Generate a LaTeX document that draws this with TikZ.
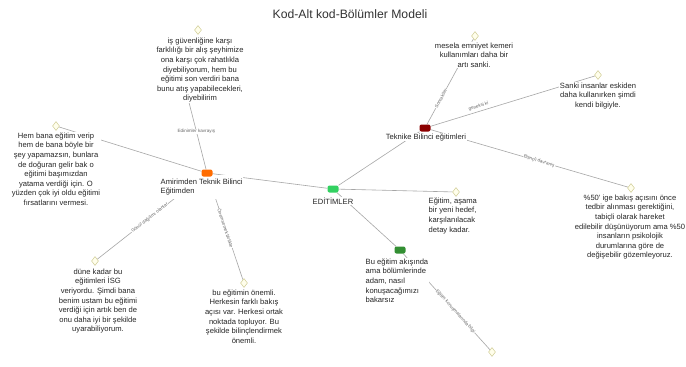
\documentclass[tikz,border=0pt]{standalone}
\usepackage{fontspec}
\setmainfont{Liberation Sans}
\usetikzlibrary{shapes.geometric,backgrounds}
\begin{document}
\begin{tikzpicture}[x=1pt,y=-1pt,
  note/.style={font=\fontsize{7.6}{9.6}\selectfont, text=black!85, align=center, inner sep=0.5pt, fill=white},
  notel/.style={font=\fontsize{7.6}{9.6}\selectfont, text=black!85, align=left, inner sep=0.5pt, fill=white},
  lab/.style={font=\fontsize{7.6}{9.6}\selectfont, text=black!85, align=left, inner sep=0.5pt, fill=white},
  memo/.style={diamond, draw=yellow!40!gray!70, fill=yellow!8, line width=0.5pt, minimum width=7pt, minimum height=9pt, inner sep=0pt},
  code/.style={rounded corners=2pt, minimum width=11pt, minimum height=7pt, inner sep=0pt},
  link/.style={draw=black!35, line width=0.6pt},
  elab/.style={font=\fontsize{4.6}{5}\selectfont, text=black!60, inner sep=0.5pt, fill=white}
]
\useasboundingbox (0,0) rectangle (686,367);

\node[font=\fontsize{12.2}{14}\selectfont, text=black!80] (title) at (350,14) {Kod-Alt kod-Bölümler Modeli};

% code nodes
\node[lab, inner ysep=3.5pt, anchor=north west] (amirl) at (160,175) {Amirimden Teknik Bilinci\\Eğitimden};
\node[code, fill=orange!85!red] (amir) at (207,173) {};
\node[code, fill=green!55!teal!80] (egit) at (333,189) {};
\node[lab, anchor=north] (egitl) at (333,197) {EDİTİMLER};
\node[code, fill=red!55!black] (tek) at (425,128) {};
\node[lab, anchor=north] (tekl) at (426,133) {Teknike Bilinci eğitimleri};
\node[code, fill=green!45!black!80] (alt) at (400,250) {};
\node[notel, anchor=north west] (altl) at (365,258) {Bu eğitim akışında\\ama bölümlerinde\\adam, nasıl\\konuşacağımızı\\bakarsız};

% memos
\node[memo] (m1) at (198,30) {};
\node[note, anchor=north] (n1) at (200,37) {iş güvenliğine karşı\\farklılığı bir alış şeyhimize\\ona karşı çok rahatlıkla\\diyebiliyorum, hem bu\\eğitimi son verdiri bana\\bunu atış yapabilecekleri,\\diyebilirim};
\node[memo] (m2) at (56,126) {};
\node[note, anchor=north] (n2) at (56,132) {Hem bana eğitim verip\\hem de bana böyle bir\\şey yapamazsın, bunlara\\de doğuran gelir bak o\\eğitimi başımızdan\\yatama verdiği için. O\\yüzden çok iyi oldu eğitimi\\fırsatlarını vermesi.};
\node[memo] (m3) at (95,261) {};
\node[note, anchor=north] (n3) at (98,268) {düne kadar bu\\eğitimleri İSG\\veriyordu. Şimdi  bana\\benim ustam bu eğitimi\\verdiği için artık ben de\\onu daha iyi bir şekilde\\uyarabiliyorum.};
\node[memo] (m4) at (244,283) {};
\node[note, anchor=north] (n4) at (244,289) {bu eğitimin önemli.\\Herkesin farklı bakış\\açısı var. Herkesi ortak\\noktada topluyor. Bu\\şekilde bilinçlendirmek\\önemli.};
\node[memo] (m5) at (456,192) {};
\node[notel, anchor=north west] (n5) at (428,197) {Eğitim, aşama\\bir yeni hedef,\\karşılanılacak\\detay kadar.};
\node[memo] (m6) at (475,36) {};
\node[note, anchor=north] (n6) at (474,42) {mesela emniyet kemeri\\kullanımları daha bir\\artı sanki.};
\node[memo] (m7) at (598,75) {};
\node[note, anchor=north] (n7) at (598,82) {Sanki insanlar eskiden\\daha kullanırken şimdi\\kendi bilgiyle.};
\node[memo] (m8) at (631,188) {};
\node[note, anchor=north] (n8) at (630,194) {\%50' ige bakış açısını önce\\tedbir alınması gerektiğini,\\tabiçli olarak hareket\\edilebilir düşünüyorum ama \%50\\insanların psikolojik\\durumlarına göre de\\değişebilir gözemleyoruz.};
\node[memo] (m9) at (492,352) {};

\coordinate (c1) at (182,75);

% connectors
\begin{scope}[on background layer]
\fill[white] (0,0) rectangle (686,367);
\draw[link] (c1) -- (amir) node[elab, pos=0.6] {Edinimler kavrayış};
\draw[link] (m2) -- (amir);
\draw[link] (amir) -- (m3) node[elab, pos=0.5, sloped] {Gönül dağılımı olanlar};
\draw[link] (amir) -- (m4) node[elab, pos=0.5, sloped] {Önemsemek birlikte};
\draw[link] (amir) -- (egit);
\draw[link] (egit) -- (tek);
\draw[link] (egit) -- (m5);
\draw[link] (egit) -- (alt);
\draw[link] (alt) -- (m9) node[elab, pos=0.6, sloped] {Eğitim konuşmalarında bilgi};
\draw[link] (tek) -- (m6) node[elab, pos=0.3, sloped] {Sonrakiler};
\draw[link] (tek) -- (m7) node[elab, pos=0.3, above=2pt, sloped] {geneksi ki};
\draw[link] (tek) -- (m8) node[elab, pos=0.55, sloped] {Bilinçli davranış};
\end{scope}
\end{tikzpicture}
\end{document}
